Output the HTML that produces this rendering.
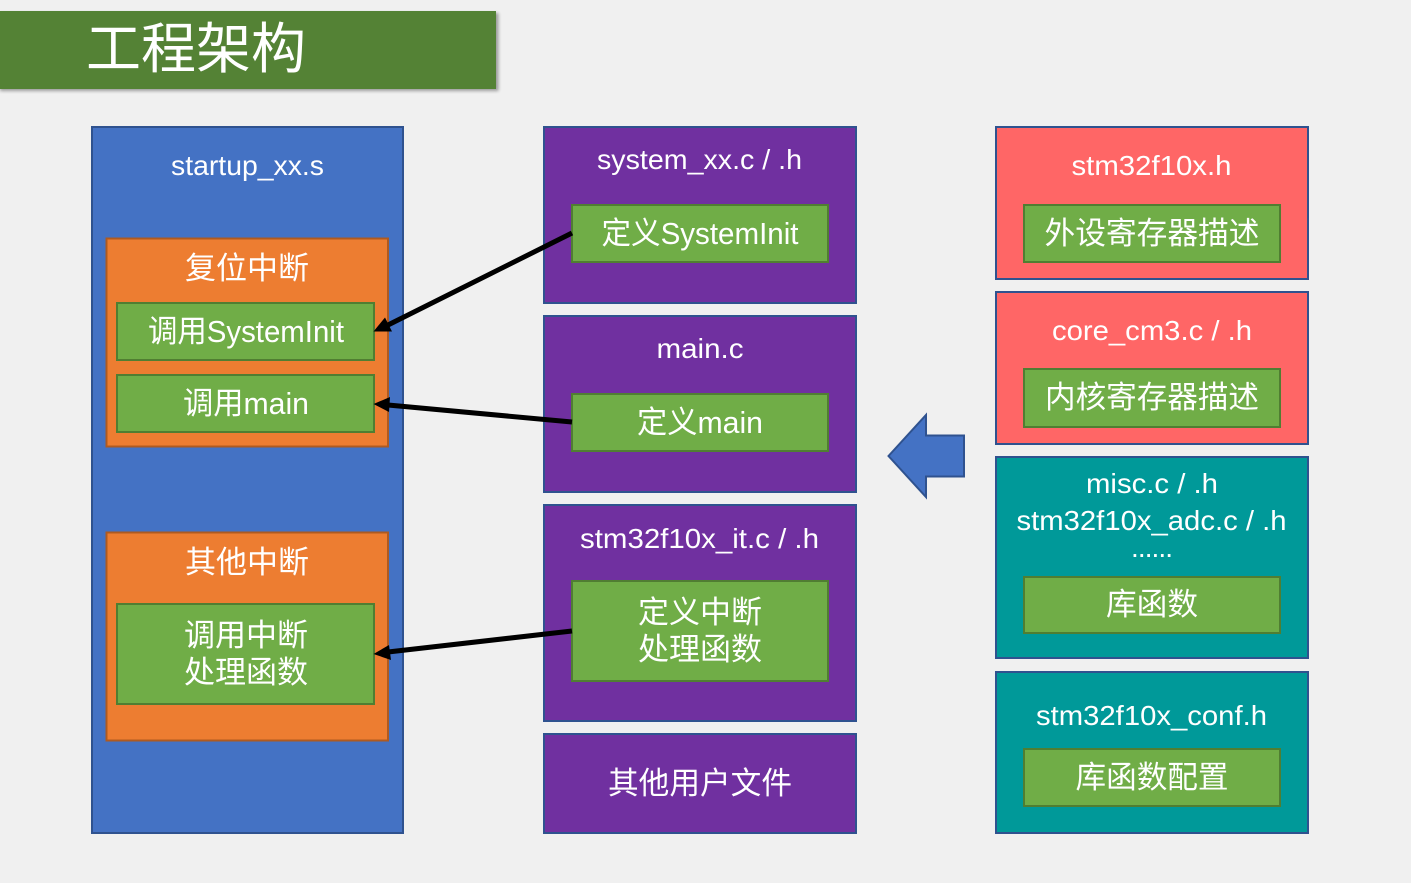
<!DOCTYPE html>
<html><head><meta charset="utf-8"><style>
html,body{margin:0;padding:0;background:#f0f0f0}
svg{display:block}
text{font-family:"Liberation Sans","Noto Sans CJK SC",sans-serif;fill:#fff;text-anchor:middle;font-size:31px;font-weight:400}
.b{fill:#4472C4;stroke:#2F528F;stroke-width:2}
.o{fill:#ED7D31;stroke:#AE5A21;stroke-width:2}
.g{fill:#70AD47;stroke:#507E32;stroke-width:2}
.p{fill:#7030A0;stroke:#2F528F;stroke-width:2}
.r{fill:#FF6666;stroke:#2F528F;stroke-width:2}
.t{fill:#009999;stroke:#2F528F;stroke-width:2}
.l{stroke:#000;stroke-width:5;fill:none}
</style></head><body>
<svg width="1411" height="883" viewBox="0 0 1411 883" xmlns="http://www.w3.org/2000/svg">
<defs><filter id="s" x="-5%" y="-20%" width="110%" height="140%"><feGaussianBlur stdDeviation="1.5"/></filter></defs>
<rect width="1411" height="883" fill="#f0f0f0"/>
<rect x="0" y="13" width="498.500" height="78" fill="#000" opacity=".35" filter="url(#s)"/>
<rect x="0" y="11" width="496" height="78" fill="#548235"/>
<text x="196" y="68" style="font-size:55px">工程架构</text>

<rect class="b" x="92" y="127" width="311" height="706"/>
<text x="247.500" y="175" style="font-size:28px" textLength="153" lengthAdjust="spacingAndGlyphs">startup_xx.s</text>
<rect class="o" x="106.500" y="238.500" width="281.500" height="208"/>
<text x="247" y="279">复位中断</text>
<rect class="g" x="117" y="303" width="257" height="57"/>
<text x="246" y="342" textLength="196" lengthAdjust="spacingAndGlyphs">调用SystemInit</text>
<rect class="g" x="117" y="375" width="257" height="57"/>
<text x="246" y="414" textLength="126" lengthAdjust="spacingAndGlyphs">调用main</text>
<rect class="o" x="106.500" y="532.500" width="281.500" height="208"/>
<text x="247" y="573">其他中断</text>
<rect class="g" x="117" y="604" width="257" height="100"/>
<text x="246" y="646">调用中断</text>
<text x="246" y="683">处理函数</text>

<rect class="p" x="544" y="127" width="312" height="176"/>
<text x="699.500" y="169" style="font-size:28px" textLength="205" lengthAdjust="spacingAndGlyphs">system_xx.c / .h</text>
<rect class="g" x="572" y="205" width="256" height="57"/>
<text x="700" y="244" textLength="197" lengthAdjust="spacingAndGlyphs">定义SystemInit</text>
<rect class="p" x="544" y="316" width="312" height="176"/>
<text x="700" y="358" style="font-size:28px" textLength="87" lengthAdjust="spacingAndGlyphs">main.c</text>
<rect class="g" x="572" y="394" width="256" height="57"/>
<text x="700" y="433" textLength="126" lengthAdjust="spacingAndGlyphs">定义main</text>
<rect class="p" x="544" y="505" width="312" height="216"/>
<text x="699.500" y="548" style="font-size:28px" textLength="239" lengthAdjust="spacingAndGlyphs">stm32f10x_it.c / .h</text>
<rect class="g" x="572" y="581" width="256" height="100"/>
<text x="700" y="623">定义中断</text>
<text x="700" y="660">处理函数</text>
<rect class="p" x="544" y="734" width="312" height="99"/>
<text x="700" y="794" textLength="184" lengthAdjust="spacingAndGlyphs">其他用户文件</text>

<rect class="r" x="996" y="127" width="312" height="152"/>
<text x="1151.500" y="175" style="font-size:28px" textLength="160" lengthAdjust="spacingAndGlyphs">stm32f10x.h</text>
<rect class="g" x="1024" y="205" width="256" height="57"/>
<text x="1152" y="244" textLength="215" lengthAdjust="spacingAndGlyphs">外设寄存器描述</text>
<rect class="r" x="996" y="292" width="312" height="152"/>
<text x="1152" y="340" style="font-size:28px" textLength="200" lengthAdjust="spacingAndGlyphs">core_cm3.c / .h</text>
<rect class="g" x="1024" y="369" width="256" height="58"/>
<text x="1152" y="408" textLength="214" lengthAdjust="spacingAndGlyphs">内核寄存器描述</text>
<rect class="t" x="996" y="457" width="312" height="201"/>
<text x="1152" y="493" style="font-size:28px" textLength="132" lengthAdjust="spacingAndGlyphs">misc.c / .h</text>
<text x="1151.500" y="530" style="font-size:28px" textLength="270" lengthAdjust="spacingAndGlyphs">stm32f10x_adc.c / .h</text>
<text x="1152" y="557" style="font-size:28px" textLength="42" lengthAdjust="spacing">......</text>
<rect class="g" x="1024" y="577" width="256" height="56"/>
<text x="1152" y="615" textLength="92" lengthAdjust="spacingAndGlyphs">库函数</text>
<rect class="t" x="996" y="672" width="312" height="161"/>
<text x="1151.500" y="725" style="font-size:28px" textLength="231" lengthAdjust="spacingAndGlyphs">stm32f10x_conf.h</text>
<rect class="g" x="1024" y="749" width="256" height="57"/>
<text x="1152" y="788" textLength="153" lengthAdjust="spacingAndGlyphs">库函数配置</text>

<polygon points="888.500,456 926,415 926,435.500 964,435.500 964,476.500 926,476.500 926,497" fill="#4472C4" stroke="#2F528F" stroke-width="2"/>

<line class="l" x1="572" y1="233" x2="386" y2="326"/>
<polygon points="373.500,331.500 385,317.500 392,331.500" fill="#000"/>
<line class="l" x1="572" y1="422" x2="388" y2="405"/>
<polygon points="373.500,404 390,397 389,412" fill="#000"/>
<line class="l" x1="572" y1="631" x2="388" y2="652"/>
<polygon points="373.500,654 389,645 391,660" fill="#000"/>
</svg>
</body></html>
